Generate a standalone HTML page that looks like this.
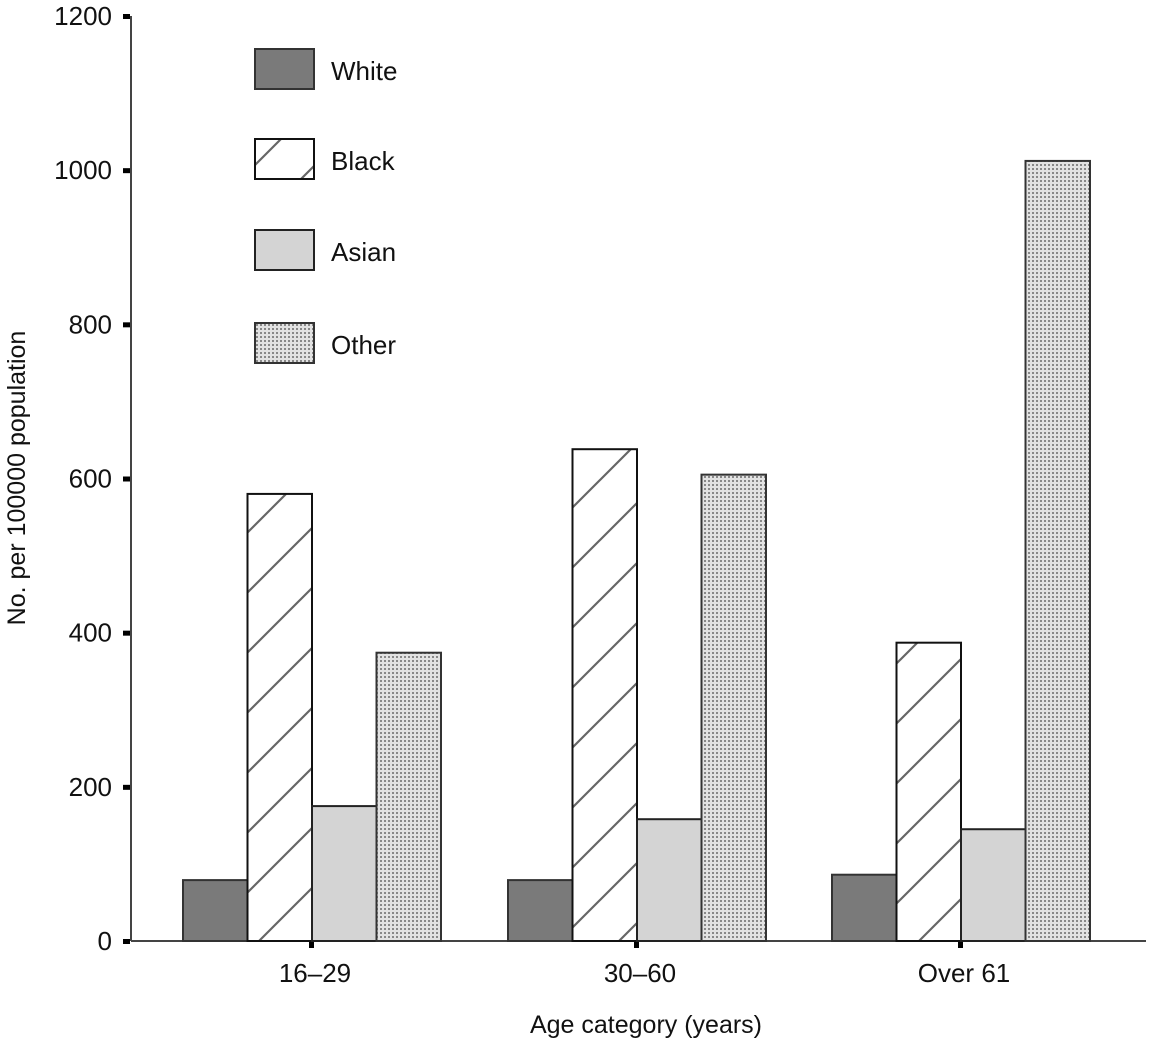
<!DOCTYPE html>
<html><head><meta charset="utf-8"><style>
html,body{margin:0;padding:0;background:#fff;}
svg{display:block;font-family:"Liberation Sans",Arial,sans-serif;}
</style></head><body>
<svg id="chart" width="1151" height="1045" viewBox="0 0 1151 1045">
<defs>
<pattern id="hatch" patternUnits="userSpaceOnUse" width="60" height="60">
<path d="M-15,15 L15,-15 M0,60 L60,0 M45,75 L75,45" stroke="#666" stroke-width="2.2" fill="none"/>
</pattern>
<pattern id="dots" patternUnits="userSpaceOnUse" width="4" height="4">
<rect width="4" height="4" fill="#e2e2e2"/>
<rect width="2" height="2" fill="#888"/>
</pattern>
</defs>
<g id="axes"></g>
<g id="bars"></g>
<g id="legend"></g>
</svg>
<script>
const categories = ["16–29","30–60","Over 61"];
const seriesNames = ["White","Black","Asian","Other"];
const whiteVals = [79, 79, 86];
const blackVals = [580, 638, 387];
const asianVals = [175, 158, 145];
const otherVals = [374, 605, 1012];
const yTicks = [0,200,400,600,800,1000,1200];

const NS="http://www.w3.org/2000/svg";
const y0=941, yTop=16, yMax=1200;
const yScale=v=>y0-(v/yMax)*(y0-yTop);
const groupStart=[183,508,832];
const barW=64.5;
const xBar=(g,s)=>groupStart[g]+s*barW;
const fills=["#7a7a7a","url(#hatch)","#d4d4d4","url(#dots)"];
const strokes=["#333","#111","#222","#333"];
const series=[whiteVals,blackVals,asianVals,otherVals];
function mk(tag,attrs,parent){const e=document.createElementNS(NS,tag);for(const k in attrs)e.setAttribute(k,attrs[k]);parent.appendChild(e);return e;}
const axes=document.getElementById('axes'),bars=document.getElementById('bars'),legend=document.getElementById('legend');

let a=mk('line',{x1:131,y1:y0,x2:1146,y2:y0,stroke:"#444","stroke-width":2},axes);

a=mk('line',{x1:131,y1:yTop,x2:131,y2:y0,stroke:"#444","stroke-width":2},axes);

yTicks.forEach(t=>{
 const y=yScale(t);
 let m=mk('rect',{x:123,y:y-2,width:7,height:5,fill:"#000"},axes);
 
 let tx=mk('text',{x:112,y:y+9,"text-anchor":"end","font-size":26,fill:"#111"},axes);
 tx.textContent=t;
 
});
categories.forEach((c,g)=>{
 const cx=groupStart[g]+2*barW;
 let m=mk('rect',{x:cx-3,y:y0,width:5,height:7,fill:"#000"},axes);
 
 let tx=mk('text',{x:cx+3,y:982,"text-anchor":"middle","font-size":26,fill:"#111"},axes);
 tx.textContent=c;
 
});
let t=mk('text',{x:646,y:1033,"text-anchor":"middle","font-size":25,fill:"#111"},axes);
t.textContent="Age category (years)";

t=mk('text',{x:0,y:0,"text-anchor":"middle","font-size":25,fill:"#111",transform:"translate(25,478) rotate(-90)"},axes);
t.textContent="No. per 100000 population";


series.forEach((vals,s)=>{
 vals.forEach((v,g)=>{
  const x=xBar(g,s), y=yScale(v);
  let r=mk('rect',{x:x,y:y,width:barW,height:y0-y,fill:fills[s],stroke:strokes[s],"stroke-width":2},bars);
  
  
 });
});

const legY=[49,139,230,323];
seriesNames.forEach((n,s)=>{
 let r=mk('rect',{x:255,y:legY[s],width:59,height:40,fill:fills[s],stroke:strokes[s],"stroke-width":2},legend);
 
 let tx=mk('text',{x:331,y:legY[s]+31,"font-size":26,fill:"#111"},legend);
 tx.textContent=n;
 
});
</script>
</body></html>
